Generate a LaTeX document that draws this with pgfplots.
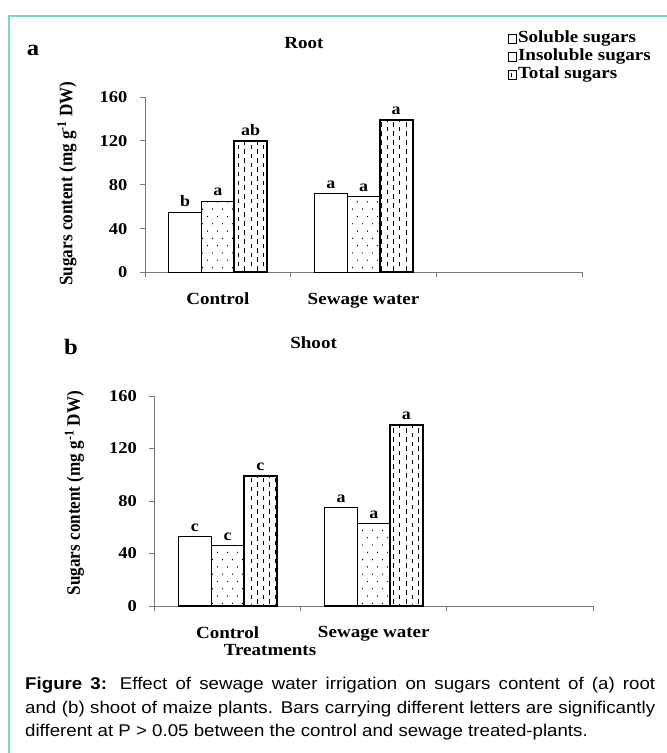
\documentclass[border=0pt]{standalone}
\usepackage{pgfplots}
\pgfplotsset{compat=1.18}
\usetikzlibrary{patterns}
\usepackage{fontspec}
\setmainfont{Liberation Serif}[FakeStretch=1.12]
\newfontfamily\ylfont{Liberation Serif}[FakeStretch=0.9]
\newfontfamily\capfont{Liberation Sans}[FakeStretch=1.1]
\definecolor{frame}{RGB}{125,211,200}
\definecolor{axgray}{RGB}{120,120,120}

\pgfdeclarepatternformonly{sparsedots}{\pgfqpoint{-1pt}{-1pt}}{\pgfqpoint{11pt}{15pt}}{\pgfqpoint{10pt}{14.6pt}}{%
 \pgfpathcircle{\pgfqpoint{2.5pt}{3.6pt}}{0.7pt}%
 \pgfpathcircle{\pgfqpoint{7.5pt}{10.9pt}}{0.7pt}%
 \pgfusepath{fill}}
\pgfdeclarepatternformonly{vdashes}{\pgfqpoint{-1pt}{-1pt}}{\pgfqpoint{13.4pt}{10pt}}{\pgfqpoint{12.4pt}{9pt}}{%
 \pgfsetlinewidth{1.1pt}%
 \pgfpathmoveto{\pgfqpoint{3.1pt}{0.5pt}}\pgfpathlineto{\pgfqpoint{3.1pt}{5.3pt}}%
 \pgfpathmoveto{\pgfqpoint{9.3pt}{5pt}}\pgfpathlineto{\pgfqpoint{9.3pt}{9pt}}%
 \pgfpathmoveto{\pgfqpoint{9.3pt}{0pt}}\pgfpathlineto{\pgfqpoint{9.3pt}{0.8pt}}%
 \pgfusepath{stroke}}

\pgfplotsset{
 sugarax/.style={
  scale only axis, ybar=0pt, bar width=32.7pt,
  xmin=-0.5, xmax=2.5, ymin=0, ymax=160,
  axis x line*=bottom, axis y line*=left,
  axis line style={-, draw=axgray, line width=0.8pt},
  xtick={-0.5,0.5,1.5,2.5}, xticklabels={},
  extra x ticks={0,1}, extra x tick labels={Control, Sewage water},
  extra x tick style={major tick length=0pt, tick label style={yshift=-17pt}},
  ytick={0,40,80,120,160},
  tick align=outside, major tick length=5pt,
  tick style={draw=axgray, line width=0.8pt},
  /pgf/number format/assume math mode=true,
  yticklabel style={font=\fontsize{16.5}{17}\selectfont\bfseries, xshift=-9pt},
  xticklabel style={font=\fontsize{17}{17}\selectfont\bfseries},
  point meta=explicit symbolic, nodes near coords,
  nodes near coords style={anchor=south, inner sep=0pt, yshift=4.5pt, font=\fontsize{16}{16}\selectfont\bfseries},
  clip=false,
 },
 solb/.style={draw=black, fill=white, line width=1.2pt},
 insb/.style={draw=black, fill=white, line width=1.2pt, postaction={pattern=sparsedots}},
 totb/.style={draw=black, fill=white, line width=2pt, postaction={pattern=vdashes}},
}

\begin{document}
\begin{tikzpicture}[x=1pt,y=1pt]
\useasboundingbox (0,0) rectangle (667,753);
\draw[frame, line width=2pt] (9,0) -- (9,737) -- (667,737);

% ---- panel a : Root
\begin{axis}[sugarax, at={(145pt,480.5pt)}, anchor=south west, width=437pt, height=175.5pt,
  legend image code/.code={\draw[#1, line width=0.8pt] (0pt,-4.5pt) rectangle (8pt,4.5pt);},
  legend style={at={(0.8307,1.3836)}, anchor=north west, draw=none, fill=none, inner sep=0pt,
    font=\fontsize{17}{17}\selectfont\bfseries, row sep=0pt,
    nodes={inner sep=1pt, text height=12pt, text depth=4pt}},
  legend cell align=left]
\addplot[solb] coordinates {(0,55) [b] (1,72) [a]};
\addplot[insb] coordinates {(0,65) [a] (1,69) [a]};
\addplot[totb] coordinates {(0,119.5) [ab] (1,139) [a]};
\legend{Soluble sugars, Insoluble sugars, Total sugars}
\end{axis}

% ---- panel b : Shoot
\begin{axis}[sugarax, at={(154.5pt,147pt)}, anchor=south west, width=438.5pt, height=210pt]
\addplot[solb] coordinates {(0,53) [c] (1,75) [a]};
\addplot[insb] coordinates {(0,46) [c] (1,63) [a]};
\addplot[totb] coordinates {(0,99) [c] (1,138) [a]};
\end{axis}

% ---- texts
\node[font=\fontsize{22}{22}\selectfont\bfseries] at (33,703) {a};
\node[font=\fontsize{22}{22}\selectfont\bfseries] at (71,406.3) {b};
\node[font=\fontsize{17}{17}\selectfont\bfseries] at (304,710) {Root};
\node[font=\fontsize{17}{17}\selectfont\bfseries] at (313.6,410.3) {Shoot};
\node[font=\ylfont\fontsize{19}{19}\selectfont\bfseries, rotate=90] at (67,569.5) {Sugars content (mg g\textsuperscript{-1} DW)};
\node[font=\ylfont\fontsize{19}{19}\selectfont\bfseries, rotate=90] at (74.5,260) {Sugars content (mg g\textsuperscript{-1} DW)};
\node[font=\fontsize{17}{17}\selectfont\bfseries] at (270,103) {Treatments};

\node[anchor=north west, inner sep=0pt, text width=630pt, align=justify,
  font=\capfont\fontsize{17}{23.5}\selectfont] at (25,76)
  {\textbf{Figure 3:} Effect of sewage water irrigation on sugars content of (a) root\linebreak
   and (b) shoot of maize plants. Bars carrying different letters are significantly\linebreak
   different at P > 0.05 between the control and sewage treated-plants.};
\end{tikzpicture}
\end{document}
